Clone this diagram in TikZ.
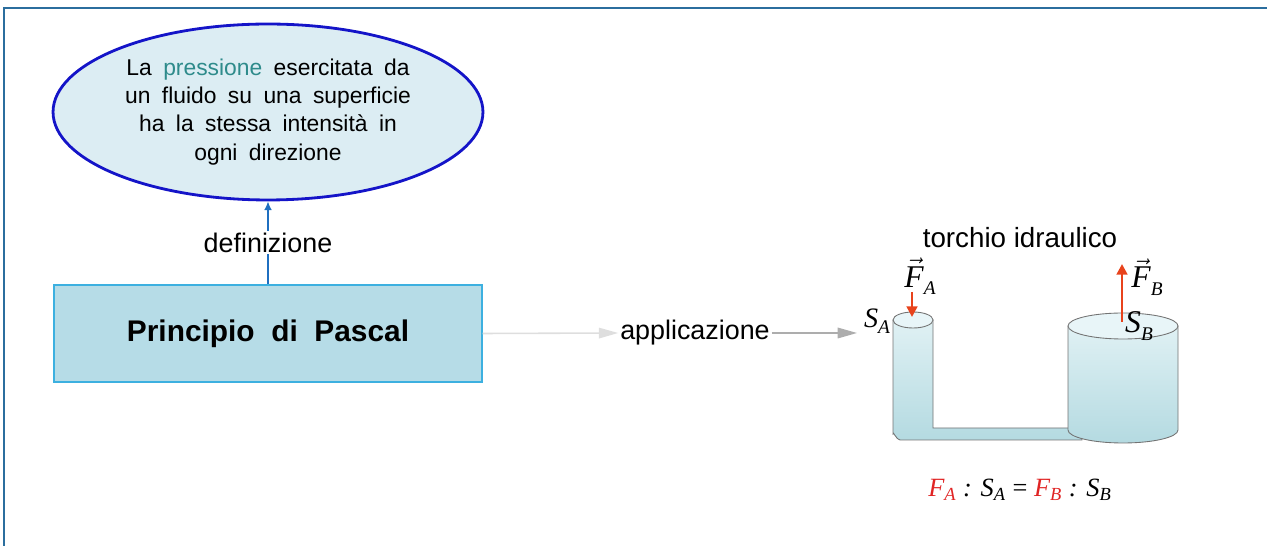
\documentclass[tikz,border=0pt]{standalone}
\usepackage{fontspec}
\setmainfont{Liberation Sans}
\newfontfamily\timesfont{Liberation Serif}
\usetikzlibrary{positioning,shapes.geometric,arrows.meta}

\definecolor{framecol}{HTML}{2B6E9E}
\definecolor{ovalline}{HTML}{1414C8}
\definecolor{ovalfill}{HTML}{DCEDF3}
\definecolor{boxline}{HTML}{3CB0E0}
\definecolor{boxfill}{HTML}{B6DCE7}
\definecolor{linkblue}{HTML}{1F6FC0}
\definecolor{tealword}{HTML}{2E8B8B}
\definecolor{forcered}{HTML}{E8431C}
\definecolor{formred}{HTML}{E02424}
\definecolor{waterhi}{HTML}{E0F1F4}
\definecolor{waterlo}{HTML}{B4DAE1}
\definecolor{watertop}{HTML}{E8F5F8}

% vector over a Times letter, low subscript
\newcommand{\tvec}[1]{\ensuremath{\vec{\mbox{\timesfont\itshape #1}}}}
\newcommand{\lowsub}[1]{\raisebox{-0.5ex}{\fontsize{11}{12}\selectfont #1}}
\newlength{\widespace}
\setlength{\widespace}{6.5pt}
\newcommand{\widewords}{\spaceskip=\widespace\relax}

\tikzset{%
  font=\fontsize{15.3}{18}\selectfont,>=latex,
  concept/.style={ellipse,draw=ovalline,line width=1.6pt,fill=ovalfill,
    minimum width=8.6cm,minimum height=3.52cm,inner sep=0pt,align=center,
    font=\fontsize{13}{16}\selectfont\widewords},
  principle/.style={rectangle,draw=boxline,fill=boxfill,line width=0.8pt,
    minimum width=8.56cm,minimum height=1.94cm,
    font=\fontsize{17}{20}\selectfont\bfseries},
  linklabel/.style={fill=white,inner sep=1pt},
  link/.style={draw=linkblue,line width=0.9pt,-{Latex[length=5pt,width=4.5pt]}},
  applink/.style={line width=0.9pt,-{Triangle[length=11pt,width=6pt]}},
  force/.style={draw=forcered,line width=1.6pt,-{Triangle[length=6pt,width=6pt]}},
  vessel/.style={draw=black!55,line width=0.5pt,top color=waterhi,bottom color=waterlo},
  lid/.style={draw=black!55,line width=0.5pt,fill=watertop},
  symb/.style={font=\fontsize{18}{19}\selectfont\timesfont\itshape,inner sep=0pt}
}

\begin{document}
\begin{tikzpicture}[x=0.02cm,y=-0.02cm]
\useasboundingbox (0,0) rectangle (1267,546);
\draw[framecol,line width=1.1pt] (4,549) -- (4,8) -- (1270,8);

% concept map
\node[concept] (def) at (268,112)
  {La \textcolor{tealword}{pressione} esercitata da\\
   un fluido su una superficie\\
   ha la stessa intensit\`a in\\
   ogni direzione};
\node[principle] (pascal) at (268,333.5) {Principio\ \ di\ \ Pascal};
\draw[link] (pascal.north) -- node[linklabel] {definizione} (def.south);

\node[inner sep=1pt] (appl) at (695,333) {applicazione};
\coordinate (press) at (857,333);
\draw[applink,draw=black!13,fill=black!20] (pascal.east) -- (appl.west);
\draw[applink,draw=black!32,fill=black!28] (appl.east) -- (press);

% hydraulic press
\node[font=\fontsize{15.8}{18}\selectfont] (torchio) at (1020,238) {torchio idraulico};
\draw[vessel] (893,320) -- (893,434) to[out=90,in=180] (900,440) -- (1082,440)
  -- (1082,428) -- (933,428) -- (933,320) -- cycle;
\draw[lid] (913,320) ellipse [x radius=20,y radius=8];
\draw[vessel] (1068,326) -- (1068,430) arc (180:0:55 and 13) -- (1178,326) -- cycle;
\draw[lid] (1123,326) ellipse [x radius=55,y radius=13];

\coordinate (fatop) at (912,292);
\coordinate (fabot) at (912,317);
\coordinate (fbbot) at (1122,322);
\coordinate (fbtop) at (1122,264);
\draw[force] (fatop) -- (fabot);
\draw[force] (fbbot) -- (fbtop);

\node[symb] (fa) at (920,276) {\tvec{F}\lowsub{A}};
\node[symb,font=\fontsize{16}{17}\selectfont\timesfont\itshape] (sa) at (877,321) {S\lowsub{A}};
\node[symb] (fb) at (1147,277) {\tvec{F}\lowsub{B}};
\node[symb] (sb) at (1139,326) {S\lowsub{B}};

\node[font=\fontsize{15}{17}\selectfont\timesfont\itshape] (law) at (1020,490)
  {\textcolor{formred}{F\textsubscript{A}} : S\textsubscript{A}
   \upshape=\itshape\ \textcolor{formred}{F\textsubscript{B}} : S\textsubscript{B}};
\end{tikzpicture}
\end{document}
